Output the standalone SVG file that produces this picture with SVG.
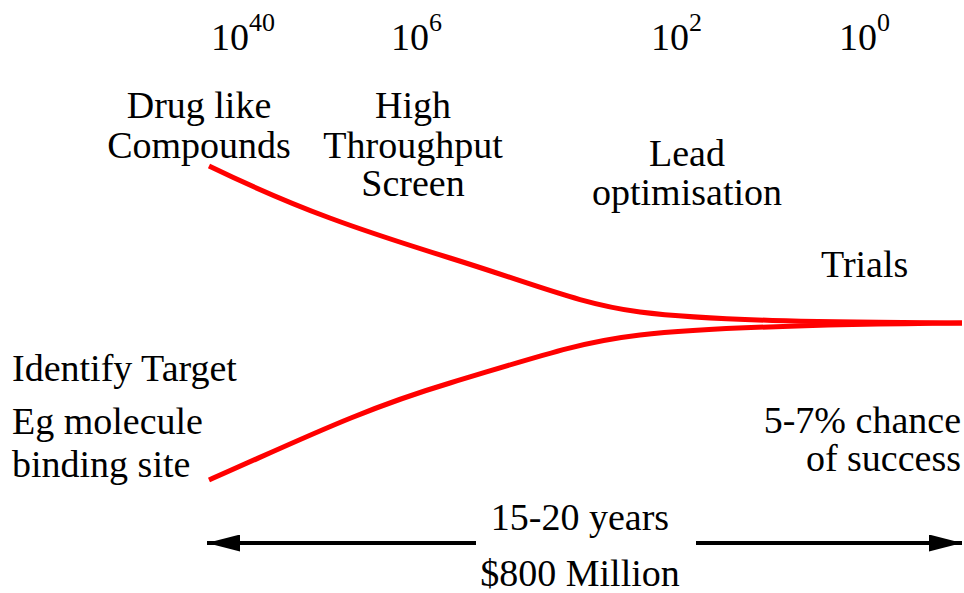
<svg xmlns="http://www.w3.org/2000/svg" width="964" height="593" viewBox="0 0 964 593">
<style>
text{font-family:'Liberation Serif',serif;font-size:38px;fill:#000}
.sup{font-size:26px}
.m{text-anchor:middle}
.e{text-anchor:end}
.curve{fill:none;stroke:#ff0000;stroke-width:5}
.arr{stroke:#000;stroke-width:4;fill:none}
</style>
<defs>
<marker id="ah" viewBox="0 0 33 17" refX="33" refY="8.5" markerWidth="33" markerHeight="17" markerUnits="userSpaceOnUse" orient="auto">
<path d="M0,0 L33,8.5 L0,17 z" fill="#000"/>
</marker>
</defs>
<g id="scale">
<text x="211" y="50">10<tspan class="sup" dy="-19">40</tspan></text>
<text x="391" y="50">10<tspan class="sup" dy="-19">6</tspan></text>
<text x="651" y="50">10<tspan class="sup" dy="-19">2</tspan></text>
<text x="839" y="50">10<tspan class="sup" dy="-19">0</tspan></text>
</g>
<g id="drug-like">
<text class="m" x="199" y="118">Drug like</text>
<text class="m" x="199" y="158">Compounds</text>
</g>
<g id="hts">
<text class="m" x="413" y="118">High</text>
<text class="m" x="413" y="158">Throughput</text>
<text class="m" x="413" y="196">Screen</text>
</g>
<g id="lead">
<text class="m" x="687" y="166">Lead</text>
<text class="m" x="687" y="205">optimisation</text>
</g>
<g id="trials">
<text x="821" y="277">Trials</text>
</g>
<g id="target">
<text x="12" y="381">Identify Target</text>
<text x="12" y="434">Eg molecule</text>
<text x="12" y="477">binding site</text>
</g>
<g id="chance">
<text class="e" x="961" y="433">5-7% chance</text>
<text class="e" x="961" y="471">of success</text>
</g>
<g id="cost">
<text class="m" x="580" y="530">15-20 years</text>
<text class="m" x="580" y="586">$800 Million</text>
</g>
<g id="connectors">
<path class="curve" d="M209,166 C300,210 360,230 450,258 C540,286 580,304 640,312 C720,322 850,322 962,323"/>
<path class="curve" d="M209,480 C300,440 360,410 450,383 C540,356 580,342 640,335 C720,326 850,324 962,323"/>
<line class="arr" x1="476" y1="543" x2="207" y2="543" marker-end="url(#ah)"/>
<line class="arr" x1="696" y1="543" x2="962" y2="543" marker-end="url(#ah)"/>
</g>
</svg>
